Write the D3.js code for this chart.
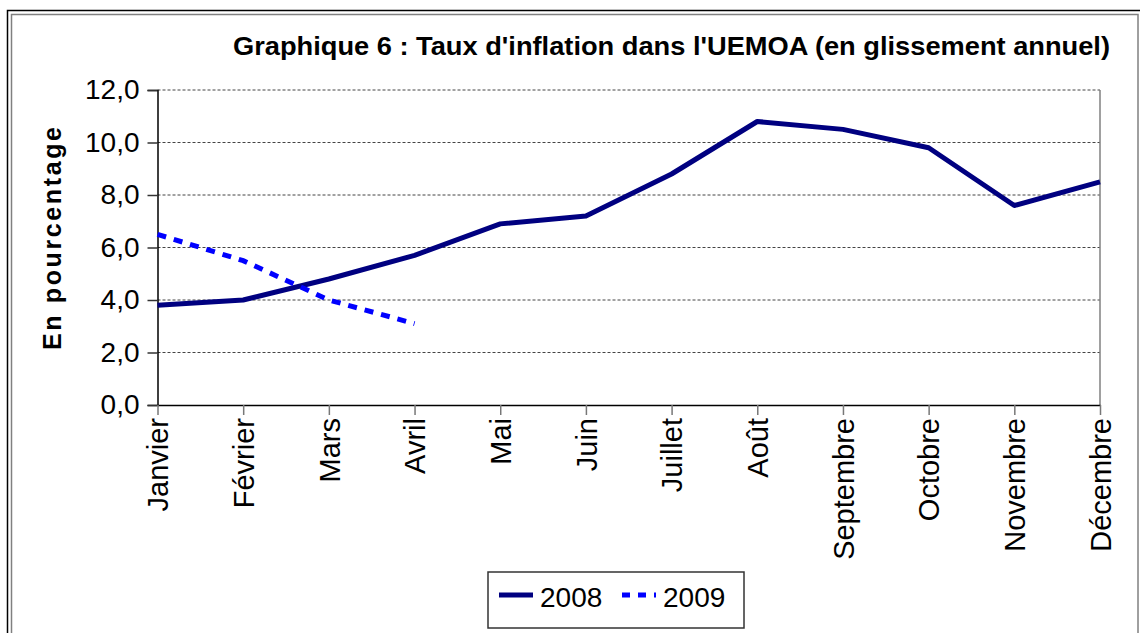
<!DOCTYPE html>
<html lang="fr">

<head>
    <meta charset="UTF-8">
    <title>Graphique 6</title>
    <script src="https://d3js.org/d3.v7.min.js"></script>
    <style>
        body {
            margin: 0;
            background: white;
        }

        svg text {
            font-family: "Liberation Sans", Arial, sans-serif;
            fill: black;
        }

        .grid line {
            stroke: #444;
            stroke-width: 1px;
            stroke-dasharray: 3, 2;
        }
    </style>
</head>

<body>
    <svg width="1140" height="633"></svg>

    <script>
        const months = ["Janvier", "Février", "Mars", "Avril", "Mai", "Juin", "Juillet", "Août",
            "Septembre", "Octobre", "Novembre", "Décembre"];
        const values2008 = [3.8, 4.0, 4.8, 5.7, 6.9, 7.2, 8.8, 10.8, 10.5, 9.8, 7.6, 8.5];
        const values2009 = [6.5, 5.5, 4.0, 3.1];
        const yTicks = [0, 2, 4, 6, 8, 10, 12];
        const seriesNames = ["2008", "2009"];

        const svg = d3.select("svg");
        const plotLeft = 157.5, plotRight = 1100, plotTop = 90, plotBottom = 405;

        // frames around the chart
        svg.append("rect")
            .attr("x", 7.5).attr("y", 10.5).attr("width", 1150).attr("height", 650)
            .attr("fill", "none").attr("stroke", "black").attr("stroke-width", 1.5);
        svg.append("rect")
            .attr("x", 11.5).attr("y", 14.5).attr("width", 1126.5).attr("height", 640)
            .attr("fill", "none").attr("stroke", "#808080").attr("stroke-width", 1.5);

        const x = d3.scalePoint().domain(months).range([plotLeft, plotRight]);
        const y = d3.scaleLinear().domain([0, 12]).range([plotBottom, plotTop]);

        // gridlines
        svg.append("g").attr("class", "grid")
            .selectAll("line").data(yTicks.filter(d => d > 0)).join("line")
            .attr("x1", plotLeft).attr("x2", plotRight)
            .attr("y1", d => y(d)).attr("y2", d => y(d));

        // right border of the plot
        svg.append("line")
            .attr("x1", plotRight).attr("x2", plotRight).attr("y1", plotTop).attr("y2", plotBottom)
            .attr("stroke", "#808080").attr("stroke-width", 1.5);

        // y axis
        const yAxis = svg.append("g")
            .attr("transform", `translate(${plotLeft},0)`)
            .call(d3.axisLeft(y).tickValues(yTicks).tickSize(10).tickPadding(8)
                .tickFormat(d => d3.format(".1f")(d).replace(".", ",")));
        yAxis.attr("font-family", null);
        yAxis.select(".domain").attr("stroke", "black").attr("stroke-width", 1.5);
        yAxis.selectAll(".tick line").attr("stroke", "#333").attr("stroke-width", 1.5);
        yAxis.selectAll("text").style("font-size", "28px");

        // x axis
        const xAxis = svg.append("g")
            .attr("transform", `translate(0,${plotBottom})`)
            .call(d3.axisBottom(x).tickSize(10).tickSizeOuter(0));
        xAxis.attr("font-family", null);
        xAxis.select(".domain").attr("stroke", "black").attr("stroke-width", 1.5);
        xAxis.selectAll(".tick line").attr("stroke", "#777").attr("stroke-width", 1.5);
        xAxis.selectAll("text")
            .style("font-size", "29px")
            .attr("text-anchor", "end")
            .attr("transform", "rotate(-90)")
            .attr("x", -13).attr("y", 0).attr("dy", "0.35em");

        // lines
        const line = d3.line().x((d, i) => x(months[i])).y(d => y(d));
        svg.append("path").datum(values2008)
            .attr("d", line).attr("fill", "none")
            .attr("stroke", "#000080").attr("stroke-width", 5).attr("stroke-linejoin", "round");
        svg.append("path").datum(values2009)
            .attr("d", line).attr("fill", "none")
            .attr("stroke", "#0000ff").attr("stroke-width", 5).attr("stroke-dasharray", "9,8");

        // title
        svg.append("text")
            .attr("x", 1110).attr("y", 55)
            .attr("text-anchor", "end")
            .attr("textLength", 877).attr("lengthAdjust", "spacingAndGlyphs")
            .style("font-size", "25px").style("font-weight", "bold")
            .text("Graphique 6 : Taux d'inflation dans l'UEMOA (en glissement annuel)");

        // y axis title
        svg.append("text")
            .attr("transform", "translate(61,238.5) rotate(-90)")
            .attr("text-anchor", "middle")
            .attr("textLength", 223).attr("lengthAdjust", "spacing")
            .style("font-size", "25px").style("font-weight", "bold")
            .text("En pourcentage");

        // legend
        const legend = svg.append("g");
        legend.append("rect")
            .attr("x", 488).attr("y", 572).attr("width", 256).attr("height", 56)
            .attr("fill", "white").attr("stroke", "#333").attr("stroke-width", 1.5);
        const legendItems = [
            { name: seriesNames[0], color: "#000080", dash: null, x: 499 },
            { name: seriesNames[1], color: "#0000ff", dash: "8,8", x: 622 }
        ];
        legendItems.forEach(it => {
            legend.append("line")
                .attr("x1", it.x).attr("x2", it.x + 34).attr("y1", 595).attr("y2", 595)
                .attr("stroke", it.color).attr("stroke-width", 5)
                .attr("stroke-dasharray", it.dash);
            legend.append("text")
                .attr("x", it.x + 41).attr("y", 607)
                .style("font-size", "28px")
                .text(it.name);
        });
    </script>
</body>

</html>
